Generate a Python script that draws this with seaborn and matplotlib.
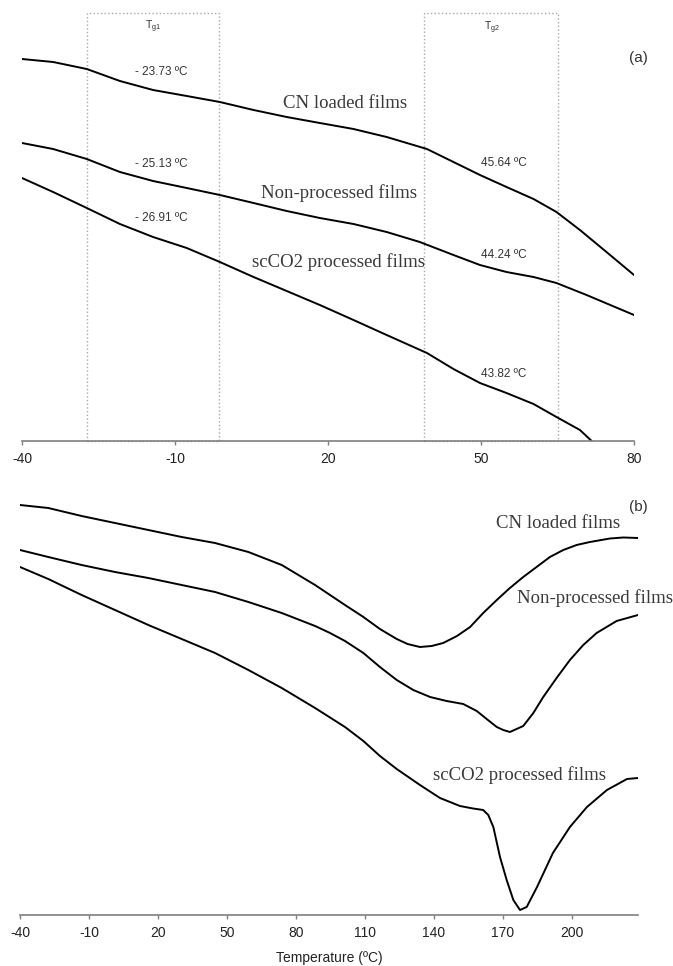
import numpy as np
import pandas as pd
import matplotlib
matplotlib.use('Agg')
import matplotlib.pyplot as plt
from matplotlib.patches import Rectangle
import seaborn as sns

# ---- panel (a): glass transition region (heat flow, arbitrary units) ----
temp_a_cn = [-40, -33.9, -27.3, -20.8, -14.3, -7.7, -1.2, 5.4, 11.9, 18.4, 25.0, 31.5, 39.4,
             44.6, 49.8, 55.0, 60.3, 64.8, 69.4, 74.6, 80]
flow_a_cn = [3.82, 3.79, 3.72, 3.60, 3.51, 3.45, 3.39, 3.31, 3.24, 3.18, 3.12, 3.04, 2.92,
             2.79, 2.66, 2.54, 2.42, 2.29, 2.11, 1.89, 1.66]

temp_a_np = [-40, -33.9, -27.3, -20.8, -14.3, -7.7, -1.2, 5.4, 11.9, 18.4, 25.0, 31.5, 38.0,
             44.6, 49.8, 55.0, 60.3, 64.8, 70.7, 80]
flow_a_np = [2.98, 2.92, 2.82, 2.69, 2.60, 2.53, 2.46, 2.38, 2.30, 2.23, 2.17, 2.09, 1.99,
             1.86, 1.76, 1.69, 1.64, 1.58, 1.46, 1.26]

temp_a_sc = [-40, -33.9, -27.3, -20.8, -14.3, -7.7, -1.2, 5.4, 11.9, 18.4, 25.0, 31.5, 39.4,
             44.6, 49.8, 55.0, 60.3, 64.8, 69.4, 71.7]
flow_a_sc = [2.63, 2.49, 2.33, 2.17, 2.04, 1.93, 1.79, 1.64, 1.50, 1.36, 1.21, 1.06, 0.88,
             0.72, 0.58, 0.48, 0.37, 0.24, 0.11, 0.0]

tg1_window = (-27.3, -1.3)
tg2_window = (38.9, 65.0)
tg1_values = ['- 23.73 ºC', '- 25.13 ºC', '- 26.91 ºC']
tg2_values = ['45.64 ºC', '44.24 ºC', '43.82 ºC']
ticks_a = [-40, -10, 20, 50, 80]

# ---- panel (b): melting region ----
temp_b_cn = [-40, -27.7, -13.2, 1.3, 15.8, 30.3, 44.8, 59.3, 73.8, 88.3, 101.3, 109.3, 116.5,
             123.8, 128.5, 133.9, 139, 144, 150, 155.7, 161.4, 167.3, 173, 178.8, 184.6, 190.4,
             196.2, 202, 207.8, 216.5, 222.3, 228.7]
flow_b_cn = [4.10, 4.07, 3.99, 3.92, 3.85, 3.78, 3.72, 3.63, 3.50, 3.30, 3.10, 2.98, 2.86,
             2.76, 2.71, 2.68, 2.69, 2.72, 2.79, 2.88, 3.02, 3.15, 3.27, 3.38, 3.48, 3.58,
             3.65, 3.70, 3.73, 3.765, 3.775, 3.77]

temp_b_np = [-40, -27.7, -13.2, 1.3, 15.8, 30.3, 44.8, 59.3, 73.8, 88.3, 94.8, 101.3, 109.3,
             116.5, 123.8, 131, 138.3, 145.5, 152.7, 158.6, 162.9, 167.3, 170.1, 173, 178.8,
             183.2, 187.5, 193.3, 199.1, 204.9, 210.7, 219.4, 228.7]
flow_b_np = [3.65, 3.58, 3.50, 3.43, 3.37, 3.30, 3.23, 3.13, 3.02, 2.89, 2.82, 2.74, 2.62,
             2.48, 2.35, 2.25, 2.18, 2.14, 2.11, 2.04, 1.96, 1.88, 1.85, 1.83, 1.89,
             2.02, 2.18, 2.37, 2.55, 2.70, 2.82, 2.94, 3.00]

temp_b_sc = [-40, -27.7, -13.2, 1.3, 15.8, 30.3, 44.8, 59.3, 73.8, 88.3, 101.3, 109.3, 116.5,
             123.8, 133.9, 142.6, 151.3, 157, 161.4, 163.6, 165.8, 168.7, 171.6, 174.5, 177.4,
             180.3, 184.8, 191.7, 199.1, 206.5, 215.2, 223.9, 228.7]
flow_b_sc = [3.48, 3.36, 3.20, 3.05, 2.90, 2.76, 2.62, 2.45, 2.27, 2.07, 1.88, 1.74, 1.59,
             1.46, 1.30, 1.17, 1.09, 1.065, 1.05, 1.00, 0.88, 0.58, 0.35, 0.15, 0.05,
             0.08, 0.28, 0.62, 0.88, 1.08, 1.25, 1.36, 1.37]
ticks_b = [-40, -10, 20, 50, 80, 110, 140, 170, 200]

sample_names = ['CN loaded films', 'Non-processed films', 'scCO2 processed films']

sns.set_style('white')
plt.rcParams['font.family'] = ['Liberation Sans', 'DejaVu Sans']
plt.rcParams['mathtext.fontset'] = 'custom'
plt.rcParams['mathtext.rm'] = 'Liberation Sans'
plt.rcParams['mathtext.it'] = 'Liberation Sans:italic'

fig = plt.figure(figsize=(6.73, 9.66), dpi=100)
ax_a = fig.add_axes([22 / 673, 1 - 441 / 966, 612 / 673, 436 / 966])
ax_b = fig.add_axes([20 / 673, 1 - 915 / 966, 618 / 673, 425 / 966])

curve_a = [(temp_a_cn, flow_a_cn), (temp_a_np, flow_a_np), (temp_a_sc, flow_a_sc)]
curve_b = [(temp_b_cn, flow_b_cn), (temp_b_np, flow_b_np), (temp_b_sc, flow_b_sc)]

for t, f in curve_a:
    sns.lineplot(x=t, y=f, ax=ax_a, color='black', lw=1.4, solid_joinstyle='round')
for t, f in curve_b:
    sns.lineplot(x=t, y=f, ax=ax_b, color='black', lw=1.4, solid_joinstyle='round')

# dotted Tg windows
for lo, hi in [tg1_window, tg2_window]:
    ax_a.add_patch(Rectangle((lo, 0), hi - lo, 4.28, fill=False, ls=':', lw=1.0,
                             edgecolor='#a8a8a8', clip_on=False))
ax_a.text(-14.3, 4.14, r'T$_{\mathrm{g1}}$', fontsize=7.5, ha='center', va='center', color='#333333')
ax_a.text(52.2, 4.13, r'T$_{\mathrm{g2}}$', fontsize=7.5, ha='center', va='center', color='#333333')

# Tg values
for lbl, y in zip(tg1_values, [3.69, 2.77, 2.23]):
    ax_a.text(-12.7, y, lbl, fontsize=8.5, ha='center', va='center', color='#333333')
for lbl, y in zip(tg2_values, [2.78, 1.86, 0.67]):
    ax_a.text(54.4, y, lbl, fontsize=8.5, ha='center', va='center', color='#333333')

serif = ['Liberation Serif', 'DejaVu Serif']
for name, (x, y) in zip(sample_names, [(23.3, 3.38), (22.2, 2.48), (22.0, 1.79)]):
    ax_a.text(x, y, name, family=serif, fontsize=13.5, ha='center', va='center', color='#3a3a3a')
for name, (x, y) in zip(sample_names, [(194, 3.92), (210, 3.17), (177, 1.40)]):
    ax_b.text(x, y, name, family=serif, fontsize=13.5, ha='center', va='center', color='#3a3a3a',
              clip_on=False)

ax_a.text(80.8, 3.83, '(a)', fontsize=11, ha='center', va='center', color='#333333')
ax_b.text(228.7, 4.08, '(b)', fontsize=11, ha='center', va='center', color='#333333')

for ax, ticks, xlim, ylim in [(ax_a, ticks_a, (-40, 80), (0, 4.36)),
                              (ax_b, ticks_b, (-40, 228.7), (0, 4.25))]:
    ax.set_xlim(*xlim)
    ax.set_ylim(*ylim)
    ax.set_xticks(ticks)
    ax.set_xticklabels([str(t) for t in ticks])
    ax.set_yticks([])
    for s in ['left', 'right', 'top']:
        ax.spines[s].set_visible(False)
    ax.spines['bottom'].set_color('#7f7f7f')
    ax.spines['bottom'].set_linewidth(1.2)
    ax.tick_params(axis='x', direction='out', length=3, width=1, color='#7f7f7f',
                   pad=5, labelsize=10, labelcolor='#222222', bottom=True)
    ax.set_facecolor('none')

ax_b.set_xlabel('Temperature (ºC)', fontsize=10, color='#222222', labelpad=8)

fig.savefig('out.png', dpi=100, facecolor='white')
